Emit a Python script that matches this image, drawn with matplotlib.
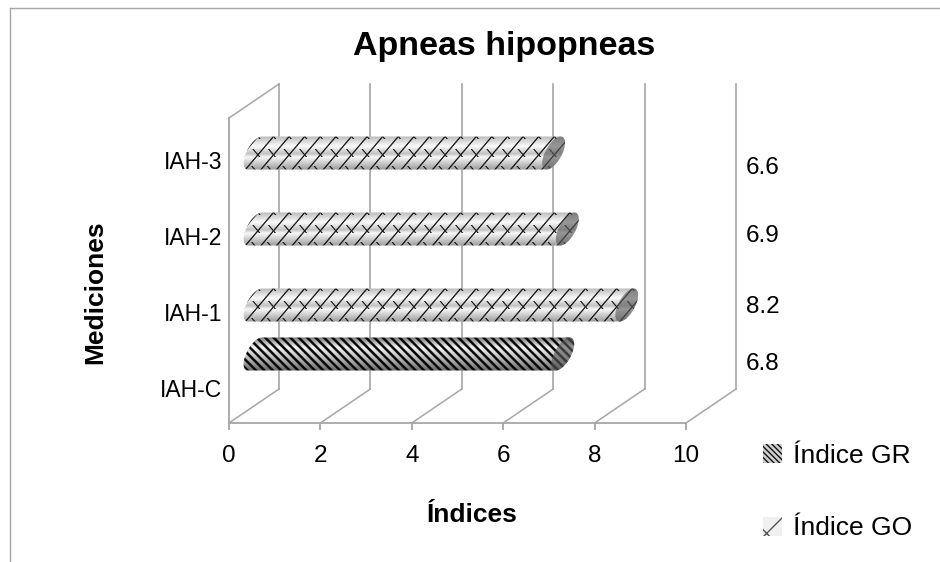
import numpy as np
import matplotlib
matplotlib.use("Agg")
import matplotlib.pyplot as plt
from matplotlib.patches import Patch, PathPatch
from matplotlib.path import Path
from matplotlib.lines import Line2D
from matplotlib.transforms import Affine2D

categories = ["IAH-C", "IAH-1", "IAH-2", "IAH-3"]
values = [6.8, 8.2, 6.9, 6.6]
series = ["Índice GR", "Índice GO", "Índice GO", "Índice GO"]
legend_labels = ["Índice GR", "Índice GO"]
title = "Apneas hipopneas"
xlabel = "Índices"
ylabel = "Mediciones"
xticks = [0, 2, 4, 6, 8, 10]

W, H = 940, 562
AX_L, AX_R, AX_T, AX_B = 229, 686, 118, 423
LABEL0, ROW = 388, 76
bar_px = [354, 305, 229, 153]
value_px = [364, 307, 236, 168]
LINE = "#a6a6a6"
plt.rcParams["font.family"] = ["Liberation Sans", "DejaVu Sans"]

fig = plt.figure(figsize=(W / 100, H / 100), dpi=100, facecolor="white")
ax = fig.add_axes([AX_L / W, 1 - AX_B / H, (AX_R - AX_L) / W, (AX_B - AX_T) / H])
ax.set_xlim(0, 10)
ax.set_ylim((LABEL0 - AX_B) / ROW, (LABEL0 - AX_T) / ROW)
ax.patch.set_alpha(0)
PX = (AX_R - AX_L) / 10

for s in ("top", "right"):
    ax.spines[s].set_visible(False)
for s in ("left", "bottom"):
    ax.spines[s].set_color(LINE)
    ax.spines[s].set_linewidth(1.3)
ax.set_xticks(xticks)
ax.set_yticks(range(len(categories)), categories)
ax.tick_params(axis="x", length=5, color=LINE, width=1.3, labelsize=17.5, pad=11)
ax.tick_params(axis="y", length=0, labelsize=16.5, pad=5)

# depth walls
DX, DY = 50, 34
back = ax.transData + Affine2D().translate(DX, DY)
y0, y1 = ax.get_ylim()
for t in xticks:
    ax.plot([t, t], [y0, y1], color=LINE, lw=1.2, transform=back, clip_on=False, zorder=1)
    fx0, fy0 = ax.transData.transform((t, y0))
    ax.add_artist(Line2D([fx0, fx0 + DX], [fy0, fy0 + DY], color=LINE, lw=1.1,
                         transform=None, clip_on=False, zorder=1))
fx0, fy0 = ax.transData.transform((0, y1))
ax.add_artist(Line2D([fx0, fx0 + DX], [fy0, fy0 + DY], color=LINE, lw=1.1,
                     transform=None, clip_on=False, zorder=1))


def ell(cx, yc, half, lean, minor, angles):
    return (cx - lean * np.sin(angles) + minor * np.cos(angles), yc + half * np.sin(angles))


def outline(x0, x1, yc, half, lean, minor):
    """Cylinder outline in pixel coordinates (y down)."""
    th = np.linspace(-np.pi / 2, np.pi / 2, 30)
    rx, ry = ell(x1, yc, half, lean, minor, th)
    lx, ly = ell(x0, yc, half, lean, minor, th + np.pi)
    return np.r_[rx, lx], np.r_[ry, ly]


def to_data(px, py):
    return (np.asarray(px) - AX_L) / PX, (LABEL0 - np.asarray(py)) / ROW


def texture(kind, nx, ny, x_origin):
    xx, yy = np.meshgrid(np.arange(nx) + x_origin, np.arange(ny))
    v = (yy + .5) / ny
    if kind == "Índice GR":
        shade = np.interp(v, [0, .3, .6, 1], [.45, .95, .75, .4])
        phase = ((xx - yy * 1.0) % 8.4) / 8.4
        dark = np.clip(1.6 - np.abs(phase - .5) * 5.2, 0, 1)
        img = shade * (1 - dark) + .03 * dark
    else:
        shade = np.interp(v, [0, .3, .48, .52, .62, 1], [.72, .98, .8, .76, .97, .6])
        period = 15.6
        lx = (xx + yy * .85) % period
        diag = np.clip(1.4 - np.abs(lx - period / 2), 0, 1)
        lx2 = (xx - yy * .85) % period
        links = np.clip(1.3 - np.abs(lx2 - period / 2), 0, 1)
        band = ((yy >= 13) & (yy <= 20)) | (yy <= 2) | (yy >= 30)
        dark = np.maximum(diag, links * band)
        img = shade * (1 - .9 * dark) + .05 * .9 * dark
    return img


ypos = [(LABEL0 - b) / ROW for b in bar_px]
base = ax.transData + Affine2D().translate(18, 0)
bars = ax.barh(ypos, values, height=32 / ROW, color="#b0b0b0", transform=base, zorder=3)
for bar, val, name, yc in zip(bars, values, series, bar_px):
    half, lean, minor = 16.5, 7, 9
    x0 = AX_L + 18 + bar.get_x() * PX
    x1 = x0 + bar.get_width() * PX + 5
    px, py = outline(x0 + 8, x1, yc, half, lean, minor)
    dx, dy = to_data(px, py)
    clip = PathPatch(Path(np.c_[dx, dy]), transform=ax.transData, fc="none", ec="none")
    ax.add_patch(clip)
    bar.set_clip_path(clip)
    left, right, top, bottom = int(x0 - 16), int(x1 + 20), yc - 17, yc + 17
    img = texture(name, right - left, bottom - top, left)
    (ex0, ex1), (ey0, ey1) = to_data([left, right], [bottom, top])
    im = ax.imshow(img, cmap="gray", vmin=0, vmax=1, aspect="auto", extent=[ex0, ex1, ey0, ey1],
                   origin="upper", interpolation="bilinear", zorder=4)
    im.set_clip_path(clip)
    # darker end cap
    th = np.linspace(0, 2 * np.pi, 60)
    cx, cy = ell(x1, yc, half, lean, minor, th)
    cdx, cdy = to_data(cx, cy)
    cp = PathPatch(Path(np.c_[cdx, cdy]), fc=(.35, .35, .35, .62), ec="none", zorder=5, clip_on=False)
    ax.add_patch(cp)

ax.set_xlim(0, 10)
ax.set_ylim(y0, y1)

for val, vy in zip(values, value_px):
    _, d = to_data(0, vy)
    ax.text(to_data(746, 0)[0], d, f"{val:g}", fontsize=17.5, va="center", ha="left", clip_on=False)

ax.set_xlabel(xlabel, fontsize=19, fontweight="bold")
ax.xaxis.set_label_coords((472 - AX_L) / (AX_R - AX_L), 1 - (515 - AX_T) / (AX_B - AX_T), transform=ax.transAxes)
ax.xaxis.label.set_va("center")
ax.set_ylabel(ylabel, fontsize=19, fontweight="bold")
ax.yaxis.set_label_coords((95 - AX_L) / (AX_R - AX_L), 1 - (292 - AX_T) / (AX_B - AX_T), transform=ax.transAxes)
ax.yaxis.label.set_va("center")

fig.text(504 / W, 1 - 46 / H, title, fontsize=24.5, fontweight="bold", ha="center", va="center")

handles = [Patch(facecolor="#d0d0d0", edgecolor="#111111", hatch="\\\\\\\\\\\\", lw=0),
           Patch(facecolor="#f0f0f0", edgecolor="#555555", hatch="x", lw=0)]
leg = fig.legend(handles, legend_labels, loc="upper left", bbox_to_anchor=(763 / W, 1 - 444 / H),
                 frameon=False, fontsize=19, handlelength=.73, handleheight=.73, handletextpad=.42,
                 labelspacing=1.83, borderpad=0, borderaxespad=0)

fig.add_artist(Line2D([10 / W, 1], [1 - 8 / H, 1 - 8 / H], color=LINE, lw=1, transform=fig.transFigure))
fig.add_artist(Line2D([10 / W, 10 / W], [0, 1 - 8 / H], color=LINE, lw=1, transform=fig.transFigure))

fig.savefig("out.png", dpi=100, facecolor="white")
